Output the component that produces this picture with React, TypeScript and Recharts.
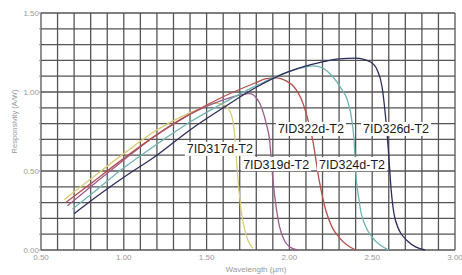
import React from 'react';
import { LineChart, Line, XAxis, YAxis, CartesianGrid, ReferenceDot } from 'recharts';

// wavelength (µm) / responsivity (A/W) per detector
const wl317 = [0.64, 0.8, 1.0, 1.2, 1.4, 1.5, 1.55, 1.6, 1.64, 1.66, 1.67, 1.69, 1.71, 1.73, 1.75, 1.78];
const r317 = [0.32, 0.45, 0.61, 0.76, 0.87, 0.91, 0.93, 0.92, 0.88, 0.81, 0.72, 0.44, 0.24, 0.13, 0.06, 0.01];

const wl319 = [0.66, 0.8, 1.0, 1.2, 1.4, 1.6, 1.7, 1.76, 1.82, 1.86, 1.88, 1.9, 1.92, 1.94, 1.97, 2.0, 2.05];
const r319 = [0.28, 0.4, 0.57, 0.73, 0.86, 0.95, 0.98, 0.99, 0.93, 0.8, 0.7, 0.45, 0.27, 0.15, 0.06, 0.02, 0.0];

const wl322 = [0.65, 0.8, 1.0, 1.2, 1.4, 1.6, 1.8, 1.86, 1.92, 1.98, 2.03, 2.07, 2.1, 2.14, 2.18, 2.22, 2.26, 2.3, 2.35, 2.4];
const r322 = [0.3, 0.42, 0.58, 0.73, 0.86, 0.97, 1.06, 1.085, 1.09, 1.07, 1.03, 0.96, 0.87, 0.7, 0.44, 0.25, 0.14, 0.08, 0.03, 0.0];

const wl324 = [0.69, 0.8, 1.0, 1.2, 1.4, 1.6, 1.8, 2.0, 2.15, 2.26, 2.32, 2.35, 2.38, 2.39, 2.4, 2.42, 2.43, 2.46, 2.5, 2.55, 2.6];
const r324 = [0.26, 0.35, 0.52, 0.67, 0.81, 0.93, 1.04, 1.13, 1.165, 1.1, 1.01, 0.95, 0.8, 0.7, 0.5, 0.32, 0.25, 0.15, 0.08, 0.03, 0.0];

const wl326 = [0.7, 0.8, 1.0, 1.2, 1.4, 1.6, 1.8, 2.0, 2.2, 2.3, 2.4, 2.49, 2.53, 2.56, 2.58, 2.6, 2.61, 2.64, 2.71, 2.82];
const r326 = [0.23, 0.31, 0.46, 0.6, 0.76, 0.9, 1.03, 1.13, 1.19, 1.21, 1.215, 1.19, 1.14, 1.03, 0.85, 0.6, 0.44, 0.19, 0.06, 0.0];

const xTicks = [0.5, 0.6, 0.7, 0.8, 0.9, 1.0, 1.1, 1.2, 1.3, 1.4, 1.5, 1.6, 1.7, 1.8, 1.9, 2.0, 2.1, 2.2, 2.3, 2.4, 2.5, 2.6, 2.7, 2.8, 2.9, 3.0];
const yTicks = [0, 0.1, 0.2, 0.3, 0.4, 0.5, 0.6, 0.7, 0.8, 0.9, 1.0, 1.1, 1.2, 1.3, 1.4, 1.5];

const labelNames = ['7ID317d-T2', '7ID319d-T2', '7ID322d-T2', '7ID324d-T2', '7ID326d-T2'];
const labelX = [1.58, 1.92, 2.13, 2.378, 2.644];
const labelY = [0.64, 0.544, 0.766, 0.544, 0.766];

const toPoints = (xs: number[], ys: number[]) => xs.map((x, i) => ({ x, y: ys[i] }));

const series = [
  { key: '317', data: toPoints(wl317, r317), color: '#d9cc78' },
  { key: '319', data: toPoints(wl319, r319), color: '#9c5c8c' },
  { key: '322', data: toPoints(wl322, r322), color: '#b4504e' },
  { key: '324', data: toPoints(wl324, r324), color: '#6fb3b3' },
  { key: '326', data: toPoints(wl326, r326), color: '#2c2c5c' },
];

const halfStep = (v: number) => (Math.abs(v * 2 - Math.round(v * 2)) < 1e-6 ? v.toFixed(2) : '');

const tagShape = (name: string) => (p: any) => (
  <g>
    <rect x={p.cx - 35} y={p.cy - 7} width={70} height={14} fill="#fff" />
    <text x={p.cx} y={p.cy} dy="0.36em" textAnchor="middle" fontSize={12.5} fill="#1a1a1a"
      fontFamily="Liberation Sans, Arial, sans-serif">{name}</text>
  </g>
);

export default function App() {
  return (
    <div style={{ position: 'absolute', left: 0, top: 0, background: '#fff', fontFamily: 'Liberation Sans, Arial, sans-serif' }}>
      <LineChart width={462} height={275} margin={{ top: 13, right: 7, left: 0, bottom: 0 }}>
        <CartesianGrid stroke="#555" strokeWidth={1.3} />
        <XAxis type="number" dataKey="x" domain={[0.5, 3.0]} ticks={xTicks} interval={0}
          tickFormatter={halfStep} axisLine={false} tickLine={false} tickSize={0} tickMargin={4}
          height={25} tick={{ fontSize: 8, fill: '#999' }}
          label={{ value: 'Wavelength (µm)', position: 'insideBottom', offset: 3, dx: 8, fontSize: 8, fill: '#999' }} />
        <YAxis type="number" domain={[0, 1.5]} ticks={yTicks} interval={0} tickFormatter={halfStep}
          width={41} axisLine={false} tickSize={2} tickMargin={0} tickLine={{ stroke: '#999' }}
          tick={{ fontSize: 8, fill: '#999' }}
          label={{ value: 'Responsivity (A/W)', angle: -90, position: 'insideLeft', offset: 14, dy: -10, fontSize: 7.5, fill: '#999', style: { textAnchor: 'middle' } }} />
        {series.map((s) => (
          <Line key={s.key} data={s.data} dataKey="y" type="monotone" stroke={s.color} strokeWidth={1.3}
            dot={false} activeDot={false} isAnimationActive={false} />
        ))}
        {labelNames.map((n, i) => (
          <ReferenceDot key={n} x={labelX[i]} y={labelY[i]} r={0} shape={tagShape(n)} />
        ))}
      </LineChart>
    </div>
  );
}
